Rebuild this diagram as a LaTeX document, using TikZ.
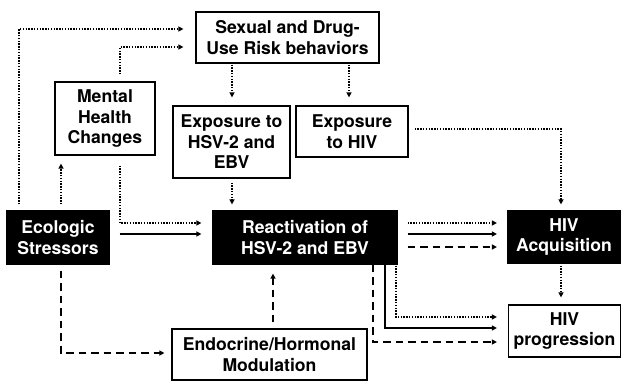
\documentclass[tikz,border=0pt]{standalone}
\usepackage{fontspec}
\setmainfont{TeX Gyre Heros}
\usetikzlibrary{arrows.meta}
\begin{document}
\begin{tikzpicture}[x=1pt,y=-1pt,
 box/.style={draw=black,line width=1.2pt,fill=white,align=center,inner sep=0pt,font=\fontsize{17.6}{20.5}\selectfont\bfseries},
 dbox/.style={box,fill=black,text=white},
 arr/.style={line width=1.4pt,-{Triangle[length=5pt,width=5pt]}},
 dotln/.style={arr,line width=1.6pt,dash pattern=on 1.4pt off 1.4pt},
 dashln/.style={arr,dash pattern=on 7.5pt off 5pt},
 solidln/.style={arr}]
\useasboundingbox (0,0) rectangle (622,381);

\node[box,minimum width=183pt,minimum height=51pt] (sex) at (287.5,37.5) {Sexual and Drug-\\Use Risk behaviors};
\node[box,minimum width=100pt,minimum height=73pt] (mental) at (105,118.5) {Mental\\Health\\Changes};
\node[box,minimum width=117pt,minimum height=72pt] (exphsv) at (231.5,142) {Exposure to\\HSV-2 and\\EBV};
\node[box,minimum width=112pt,minimum height=51pt] (exphiv) at (352,131.5) {Exposure\\to HIV};
\node[dbox,minimum width=102pt,minimum height=53pt] (eco) at (58,237.5) {Ecologic\\Stressors};
\node[dbox,minimum width=184pt,minimum height=53pt] (react) at (305,237.5) {Reactivation of\\HSV-2 and EBV};
\node[dbox,minimum width=113pt,minimum height=52pt] (acq) at (564,237) {HIV\\Acquisition};
\node[box,minimum width=112pt,minimum height=52pt] (prog) at (564.5,331) {HIV\\progression};
\node[box,minimum width=195pt,minimum height=51pt] (endo) at (269.5,354.5) {Endocrine/Hormonal\\Modulation};

\coordinate (c1) at (19,29);
\draw[dotln,shorten <=6pt,shorten >=12pt] (eco.north -| c1) -- (c1) -- (c1 -| sex.west);
\coordinate (c2) at (120,47);
\draw[dotln,shorten <=7pt,shorten >=12pt] (mental.north -| c2) -- (c2) -- (c2 -| sex.west);
\coordinate (c3) at (61,0);
\draw[dotln,shorten <=6pt,shorten >=8pt] (eco.north -| c3) -- (mental.south -| c3);
\coordinate (c4) at (120,223);
\draw[dotln,shorten <=10pt,shorten >=11pt] (mental.south -| c4) -- (c4) -- (c4 -| react.west);
\coordinate (c5) at (0,234);
\draw[solidln,shorten <=10pt,shorten >=11pt] (eco.east |- c5) -- (react.west |- c5);

\coordinate (c6) at (232,0);
\draw[dotln,shorten <=1pt,shorten >=8pt] (sex.south -| c6) -- (exphsv.north -| c6);
\coordinate (c7) at (349,0);
\draw[dotln,shorten <=1pt,shorten >=8pt] (sex.south -| c7) -- (exphiv.north -| c7);
\draw[dotln,shorten <=4pt,shorten >=6pt] (exphsv.south -| c6) -- (react.north -| c6);
\coordinate (c9) at (561,129);
\draw[dotln,shorten <=6pt,shorten >=6pt] (exphiv.east |- c9) -- (c9) -- (acq.north -| c9);

\coordinate (r1) at (0,223);
\coordinate (r2) at (0,234);
\coordinate (r3) at (0,247);
\draw[dotln,shorten <=10pt,shorten >=10pt] (react.east |- r1) -- (acq.west |- r1);
\draw[solidln,shorten <=10pt,shorten >=10pt] (react.east |- r2) -- (acq.west |- r2);
\draw[dashln,shorten <=10pt,shorten >=10pt] (react.east |- r3) -- (acq.west |- r3);

\draw[dotln,shorten <=2pt,shorten >=7pt] (acq.south -| c9) -- (prog.north -| c9);

\coordinate (p1) at (396,317);
\coordinate (p2) at (385,328);
\coordinate (p3) at (373,342);
\draw[dotln,shorten <=1pt,shorten >=11pt] (react.south -| p1) -- (p1) -- (p1 -| prog.west);
\draw[solidln,shorten >=11pt] (react.south -| p2) -- (p2) -- (p2 -| prog.west);
\draw[dashln,shorten >=11pt] (react.south -| p3) -- (p3) -- (p3 -| prog.west);

\coordinate (e1) at (61,353);
\draw[dashln,shorten <=6pt,shorten >=7pt] (eco.south -| e1) -- (e1) -- (e1 -| endo.west);
\coordinate (e2) at (273,0);
\draw[dashln,shorten <=6pt,shorten >=9pt] (endo.north -| e2) -- (react.south -| e2);
\end{tikzpicture}
\end{document}
